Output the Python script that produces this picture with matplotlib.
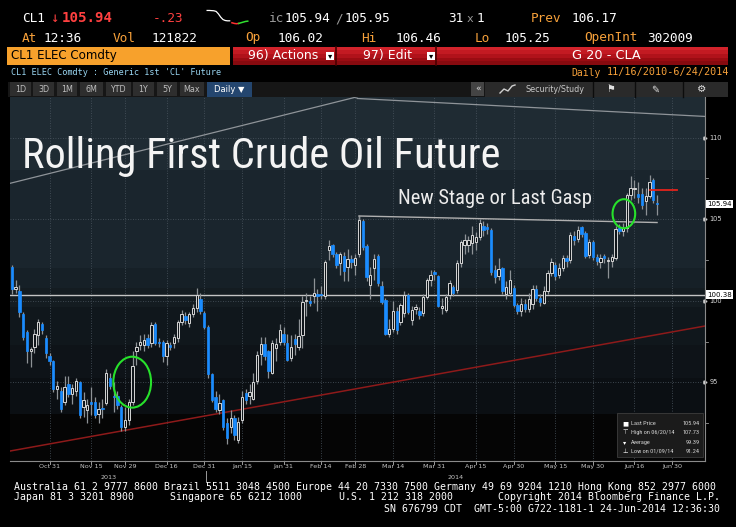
#!/usr/bin/env python3
"""Bloomberg style screen of the rolling first crude oil future (CL1), daily candles."""

import matplotlib
matplotlib.use("Agg")
import matplotlib.pyplot as plt
import numpy as np
import pandas as pd
from matplotlib import font_manager
from matplotlib.lines import Line2D
from matplotlib.patches import Ellipse, Rectangle

W, H = 736, 527

# ---------------------------------------------------------------- data
HOLIDAYS = ["2013-11-28", "2013-12-25", "2014-01-01", "2014-01-20",
            "2014-02-17", "2014-04-18", "2014-05-26"]

OPENS = [
    102.1, 100.7, 100.6, 99.2, 98.1, 96.9, 97.2, 97.9, 98.6, 97.7, 96.6,
    96.3, 94.6, 94.5, 93.8, 94.9, 94.3, 94.45, 95.0, 93.5, 93.3, 93.8, 93.8, 93.1, 93.45, 93.75, 95.3, 94.2, 94.2, 93.5, 92.3,
    92.7, 93.8, 96.9, 97.3, 97.3, 97.7, 97.4, 98.6, 97.5, 97.5, 96.6, 97.3, 97.4, 97.7, 98.7, 99.1, 98.65, 99.2, 99.55, 100.1, 99.25,
    98.4, 95.5, 94.1, 93.3, 93.9, 92.5, 92.3, 92.8, 91.5, 92.7, 94.35, 94.2, 94.0, 95.1, 96.75, 97.35, 96.9, 95.6, 97.1, 97.5, 98.0,
    97.4, 96.5, 97.65, 97.2, 97.9, 100.0, 100.0, 100.3, 100.45, 100.4, 100.3, 103.1, 103.4, 102.9, 102.35, 102.75, 102.1, 102.55, 102.2,
    102.9, 104.9, 103.35, 101.0, 102.0, 102.75, 100.9, 100.05, 97.95, 98.3, 99.4, 98.7, 99.24, 100.36, 98.83, 99.5, 99.4, 99.24, 100.26, 101.3, 101.75,
    101.5, 99.55, 99.44, 100.36, 100.87, 100.66, 102.3, 103.45, 103.4, 103.55, 103.6, 103.9, 104.6, 104.55, 104.35, 101.9, 101.5, 102.0, 100.4, 100.5, 100.8,
    99.75, 99.4, 99.8, 99.5, 99.8, 100.75, 100.2, 99.9, 100.6, 101.7, 102.2, 101.6, 102.0, 102.6, 102.5, 104.0, 103.8, 104.5, 104.15, 102.8, 103.6,
    102.7, 102.4, 102.75, 102.45, 102.45, 102.6, 104.45, 104.3, 104.45, 106.5, 106.85, 106.55, 106.55, 106.1, 106.4, 107.4, 106.02,
]
HIGHS = [
    102.2, 101.3, 101.0, 99.3, 98.2, 97.2, 98.3, 98.9, 98.7, 97.9, 96.8,
    96.4, 95.1, 94.7, 95.4, 95.4, 94.9, 95.3, 95.1, 94.4, 94.0, 94.7, 94.1, 93.8, 94.0, 95.8, 95.6, 95.0, 94.5, 93.6, 93.5,
    94.0, 96.9, 97.5, 97.9, 97.95, 98.0, 98.7, 98.7, 97.7, 97.6, 97.6, 97.5, 98.0, 98.8, 99.45, 99.3, 99.3, 99.8, 100.8, 100.5, 99.4,
    98.5, 95.6, 94.5, 94.3, 94.0, 92.8, 93.3, 93.0, 92.9, 94.5, 94.6, 94.9, 95.6, 96.9, 97.8, 97.8, 97.0, 97.6, 97.7, 98.6, 98.4,
    98.0, 97.9, 98.0, 98.9, 100.3, 100.5, 100.3, 101.4, 100.7, 100.9, 102.5, 103.7, 103.5, 103.0, 103.0, 103.0, 103.2, 102.8, 102.9,
    105.2, 105.0, 103.5, 102.1, 102.9, 102.9, 101.2, 100.2, 98.9, 100.0, 99.6, 99.9, 100.6, 100.5, 99.7, 99.8, 99.6, 100.4, 101.4, 101.9, 101.9,
    101.6, 100.2, 100.4, 101.3, 101.0, 102.5, 103.7, 104.1, 104.0, 104.6, 104.2, 105.0, 104.9, 104.8, 104.45, 102.2, 102.6, 102.1, 101.2, 101.9, 101.0,
    99.9, 100.2, 100.1, 100.5, 101.0, 101.0, 100.4, 100.9, 101.9, 102.6, 102.4, 102.3, 102.8, 102.8, 104.2, 104.3, 104.6, 104.6, 104.3, 103.8, 103.7,
    102.9, 102.9, 102.9, 102.7, 102.9, 104.6, 104.7, 104.8, 106.6, 107.65, 107.4, 107.3, 106.9, 106.9, 107.73, 107.5, 106.46,
]
LOWS = [
    100.4, 100.5, 99.0, 97.6, 96.2, 95.95, 96.8, 97.3, 98.0, 96.5, 96.1,
    94.4, 94.0, 93.2, 93.6, 94.1, 93.7, 94.2, 92.8, 92.9, 92.5, 93.0, 92.8, 92.5, 92.8, 93.6, 94.6, 93.2, 93.4, 92.0, 92.0,
    92.4, 93.6, 96.1, 97.0, 96.9, 97.1, 97.2, 97.3, 97.2, 96.25, 96.1, 97.0, 97.1, 97.5, 98.5, 98.6, 98.4, 99.0, 99.3, 99.2, 98.3,
    95.3, 93.8, 93.2, 93.1, 92.1, 91.24, 91.9, 91.5, 91.3, 92.5, 93.7, 93.7, 93.9, 94.9, 96.1, 96.4, 95.3, 95.5, 96.3, 97.3, 97.3,
    96.3, 96.3, 96.7, 97.0, 97.1, 99.1, 99.7, 99.9, 99.35, 100.1, 100.1, 102.5, 102.7, 102.0, 101.6, 101.2, 101.2, 102.0, 101.6,
    102.7, 103.1, 101.2, 100.1, 101.3, 100.9, 99.8, 97.9, 97.8, 98.1, 98.0, 98.5, 99.0, 99.2, 98.5, 99.2, 98.9, 99.1, 100.1, 100.9, 101.3,
    99.6, 99.2, 99.3, 100.1, 100.3, 100.5, 102.1, 102.9, 103.0, 102.9, 103.1, 103.7, 104.0, 104.1, 101.6, 101.1, 101.3, 100.4, 100.1, 100.3, 99.6,
    99.2, 99.1, 99.3, 99.3, 99.5, 100.0, 99.7, 99.8, 100.4, 101.5, 101.3, 101.4, 101.8, 102.1, 102.3, 103.4, 103.6, 103.9, 102.6, 102.6, 102.5,
    102.2, 102.0, 102.3, 101.4, 102.1, 102.5, 104.1, 104.0, 104.2, 106.2, 106.3, 106.0, 105.6, 105.26, 106.3, 106.0, 105.25,
]
CLOSES = [
    100.7, 100.85, 99.3, 97.8, 96.9, 97.05, 97.95, 98.7, 98.2, 96.8, 96.3,
    94.6, 94.8, 93.4, 94.7, 94.3, 94.65, 95.1, 93.0, 93.9, 93.6, 93.7, 93.0, 93.4, 93.35, 95.6, 94.8, 94.1, 93.6, 92.3, 92.7,
    93.8, 96.0, 97.2, 97.45, 97.6, 97.3, 98.5, 97.4, 97.4, 96.6, 97.4, 97.15, 97.8, 98.7, 99.2, 98.85, 99.2, 99.55, 100.35, 99.35, 98.4,
    95.5, 93.9, 93.4, 93.75, 92.3, 91.6, 92.8, 91.8, 92.6, 94.1, 93.95, 94.4, 95.0, 96.7, 97.35, 96.6, 95.7, 97.4, 97.35, 98.2, 97.45,
    96.4, 97.2, 97.35, 97.85, 99.95, 100.05, 99.85, 100.5, 100.3, 100.35, 102.4, 103.35, 102.9, 102.2, 102.85, 101.8, 102.55, 102.4, 102.6,
    104.95, 103.3, 101.45, 101.6, 102.55, 101.1, 99.95, 98.0, 98.25, 99.4, 98.2, 99.75, 100.36, 99.34, 99.44, 99.6, 99.14, 100.26, 101.28, 101.6, 101.65,
    99.7, 99.7, 100.26, 101.1, 100.47, 102.3, 103.63, 103.7, 103.75, 104.04, 103.9, 104.75, 104.35, 104.4, 101.75, 101.45, 101.95, 100.6, 100.85, 101.3, 99.75,
    99.4, 99.8, 99.5, 100.1, 100.75, 100.2, 99.95, 100.6, 101.7, 102.4, 101.5, 102.0, 102.6, 102.45, 104.05, 103.75, 104.35, 104.1, 102.75, 103.6, 102.7,
    102.45, 102.65, 102.6, 102.5, 102.7, 104.4, 104.3, 104.45, 106.5, 106.9, 106.9, 106.36, 105.9, 106.4, 107.3, 106.17, 105.94,
]

TICK_DATES = ["2013-10-31", "2013-11-15", "2013-11-29", "2013-12-16", "2013-12-31",
              "2014-01-15", "2014-01-31", "2014-02-14", "2014-02-28", "2014-03-14",
              "2014-03-31", "2014-04-15", "2014-04-30", "2014-05-15", "2014-05-30",
              "2014-06-16", "2014-06-30"]
TICK_LABELS = ["Oct 31", "Nov 15", "Nov 29", "Dec 16", "Dec 31", "Jan 15", "Jan 31",
               "Feb 14", "Feb 28", "Mar 14", "Mar 31", "Apr 15", "Apr 30", "May 15",
               "May 30", "Jun 16", "Jun 30"]
Y_TICKS = [110, 105, 100, 95]
Y_MINOR = [107.5, 102.5, 97.5, 92.5]

LAST_PRICE = 105.94
PIVOT_LEVEL = 100.38
RESIST_LINE = ([92, 171], [105.2, 104.8])
SUPPORT_LINE = ([-0.5, 183.7], [90.8, 98.46])
UPPER_LINE_A = ([-0.5, 91.5], [107.2, 112.5])
UPPER_LINE_B = ([91.5, 183.7], [112.4, 111.3])
PREV_MARK = ([169.2, 176.2], [106.8, 106.8])

LEGEND_ROWS = [("Last Price", "105.94"), ("High on 06/20/14", "107.73"),
               ("Average", "99.39"), ("Low on 01/09/14", "91.24")]

SPARK = [106.46, 106.46, 106.45, 106.44, 106.40, 106.25, 106.05, 105.90, 105.84, 105.82, 105.82]
SPARK_TAIL = [105.70, 105.66, 105.64, 105.66, 105.70, 105.74, 105.78, 105.80]

# background shading bands (price edges, top to bottom)
BAND_EDGES = [112.49, 108.0, 102.0, 100.8, 99.6, 97.3, 95.3, 93.1]
BAND_COLORS = ["#1f2b33", "#1a252d", "#162027", "#141c21", "#10171c", "#0e1318", "#0b0f13"]

ORANGE = "#f7a13a"
RED_TXT = "#ff4040"
MONO = "DejaVu Sans Mono"

available = {f.name for f in font_manager.fontManager.ttflist}
NARROW = next((f for f in ["Liberation Sans Narrow", "Roboto Condensed", "Open Sans Condensed",
                           "Roboto", "Open Sans"] if f in available), "DejaVu Sans")


def main() -> None:
    calendar = pd.bdate_range("2013-10-17", "2014-07-03")
    calendar = calendar[~calendar.isin(pd.to_datetime(HOLIDAYS))]

    o, h, l, c = (np.array(v, dtype=float) for v in (OPENS, HIGHS, LOWS, CLOSES))
    x = np.arange(len(c))

    fig = plt.figure(figsize=(W / 100, H / 100), dpi=100, facecolor="black")

    def put(px, py, s, color="white", size=9.2, family=MONO, va="baseline", **kw):
        return fig.text(px / W, 1 - py / H, s, color=color, fontsize=size, family=family, va=va, **kw)

    def rect(x0, y0, x1, y1, color, **kw):
        fig.add_artist(Rectangle((x0 / W, 1 - y1 / H), (x1 - x0) / W, (y1 - y0) / H,
                                 transform=fig.transFigure, facecolor=color, edgecolor="none", **kw))

    def fline(xs, ys, color, lw=1.0):
        fig.add_artist(Line2D([v / W for v in xs], [1 - v / H for v in ys],
                              transform=fig.transFigure, color=color, lw=lw))

    # ------------------------------------------------ main chart axes
    ax = fig.add_axes([10 / W, 1 - 461 / H, 695 / W, 364 / H])
    ax.set_xlim(-0.48, 183.7)
    ax.set_ylim(90.19, 112.49)
    ax.set_facecolor("#050505")
    ax.set_xticks([])
    ax.set_yticks([])
    for side in ("top", "left"):
        ax.spines[side].set_visible(False)
    for side in ("bottom", "right"):
        ax.spines[side].set_color("#8a8a8a")
        ax.spines[side].set_linewidth(0.8)

    for top, bot, col in zip(BAND_EDGES[:-1], BAND_EDGES[1:], BAND_COLORS):
        ax.axhspan(bot, top, color=col, lw=0, zorder=0)
    ax.axhspan(BAND_EDGES[-1], BAND_EDGES[-2], color=BAND_COLORS[-1], lw=0, zorder=0)

    tick_pos = [calendar.get_loc(pd.Timestamp(d)) for d in TICK_DATES]
    for p in tick_pos:
        ax.axvline(p, color="#4c5761", lw=0.6, ls=(0, (1, 2)), zorder=1)
    for yv in Y_TICKS:
        ax.axhline(yv, color="#4c5761", lw=0.6, ls=(0, (1, 2)), zorder=1)

    ax.axhline(PIVOT_LEVEL, color="#c4c4c4", lw=1.0, zorder=2)
    ax.plot(*UPPER_LINE_A, color="#8f9499", lw=0.9, zorder=2)
    ax.plot(*UPPER_LINE_B, color="#8f9499", lw=0.9, zorder=2)
    ax.plot(*SUPPORT_LINE, color="#8e1a1a", lw=1.1, zorder=2)
    ax.plot(*RESIST_LINE, color="#b0b0b0", lw=1.0, zorder=2)
    ax.plot([RESIST_LINE[0][0]] * 2, [RESIST_LINE[1][0], RESIST_LINE[1][0] - 0.6], color="#b0b0b0", lw=1.0, zorder=2)

    # candles
    up = c >= o
    ax.vlines(x, l, h, color="#8d9296", lw=0.9, zorder=3)
    body_lo = np.minimum(o, c)
    body_h = np.maximum(np.abs(c - o), 0.07)
    ax.bar(x[up], body_h[up], bottom=body_lo[up], width=0.62, facecolor="#10161b",
           edgecolor="#d6d6d6", lw=0.7, zorder=4)
    ax.bar(x[~up], body_h[~up], bottom=body_lo[~up], width=0.62, facecolor="#1a8cff",
           edgecolor="#1a8cff", lw=0.5, zorder=4)

    ax.plot(*PREV_MARK, color="#e3231c", lw=1.3, zorder=5)

    ax.add_patch(Ellipse((31.9, 95.02), 10.0, 3.12, fill=False, ec="#27e12b", lw=1.5, zorder=6))
    ax.add_patch(Ellipse((162.2, 105.34), 6.0, 1.78, fill=False, ec="#27e12b", lw=1.5, zorder=6))

    # right axis labels
    ytr = ax.get_yaxis_transform()
    ax.plot([1.0] * len(Y_TICKS), Y_TICKS, ls="none", marker=">", ms=2.2, color="#d0d0d0",
            transform=ytr, clip_on=False)
    for yv in Y_TICKS:
        ax.text(1.006, yv, str(yv), transform=ytr, fontsize=4.8, color="#d6d6d6", va="center", ha="left")
    for yv in Y_MINOR:
        ax.plot([1.0, 1.005], [yv, yv], color="#9a9a9a", lw=0.6, transform=ytr, clip_on=False)
    for val in (LAST_PRICE, PIVOT_LEVEL):
        ax.text(1.003, val, f"{val:.2f}", transform=ytr, fontsize=5.0, color="black", va="center",
                ha="left", bbox=dict(fc="white", ec="none", pad=1.0))

    # bottom axis labels
    xtr = ax.get_xaxis_transform()
    for p, lab in zip(tick_pos, TICK_LABELS):
        ax.plot([p, p], [0, -0.008], color="#9a9a9a", lw=0.7, transform=xtr, clip_on=False)
        ax.text(p, -0.0155, lab, transform=xtr, fontsize=4.6, color="#c4c4c4", ha="center", va="center")
    split = calendar.get_loc(pd.Timestamp("2013-12-31")) + 0.5
    ax.plot([split, split], [-0.0275, -0.058], color="#9a9a9a", lw=0.7, transform=xtr, clip_on=False)
    ax.text(split / 2, -0.044, "2013", transform=xtr, fontsize=4.6, color="#c4c4c4", ha="center", va="center")
    ax.text((split + 183.7) / 2, -0.044, "2014", transform=xtr, fontsize=4.6, color="#c4c4c4",
            ha="center", va="center")

    # annotation texts
    renderer = fig.canvas.get_renderer()
    title = put(22, 168, "Rolling First Crude Oil Future", color="#f4f4f4", size=34, family=NARROW)
    sub = put(398, 204, "New Stage or Last Gasp", color="#ececec", size=14, family=NARROW)
    for t, width in ((title, 478), (sub, 195)):
        t.set_fontsize(t.get_fontsize() * width / t.get_window_extent(renderer).width)

    # legend box
    rect(617, 413, 703, 457, "#1b1b1b", zorder=5)
    fig.add_artist(Rectangle((617 / W, 1 - 457 / H), 86 / W, 44 / H, transform=fig.transFigure,
                             fill=False, edgecolor="#3c3c3c", lw=0.6, zorder=6))
    icons = ["■", "⊤", "▾", "⊥"]
    for i, ((name, val), ic) in enumerate(zip(LEGEND_ROWS, icons)):
        yy = 423.5 + 9.3 * i
        put(625, yy, ic, color="white", size=4.6, family="DejaVu Sans", va="center", ha="center", zorder=7)
        put(631, yy, name, color="#d2d2d2", size=4.5, family=NARROW, va="center", zorder=7)
        put(700, yy, val, color="#d2d2d2", size=4.5, family=NARROW, va="center", ha="right", zorder=7)

    # ------------------------------------------------ header
    put(21.7, 22.5, "CL1")
    put(50.5, 22.5, "↓", color=RED_TXT, size=10)
    put(61.5, 22.5, "105.94", color=RED_TXT, size=10.2, weight="bold")
    put(152.7, 22.5, "-.23", color=RED_TXT)
    put(269.3, 22.5, "ic", color="#9a9a9a")
    put(285, 22.5, "105.94")
    put(335, 22.5, "/", color="#9a9a9a")
    put(345, 22.5, "105.95")
    put(448, 22.5, "31")
    put(467, 22.5, "x", color="#9a9a9a", size=8)
    put(477, 22.5, "1")
    put(531, 22.5, "Prev", color=ORANGE)
    put(572, 22.5, "106.17")

    row2 = [(21.7, "At", ORANGE), (44, "12:36", "white"), (113, "Vol", ORANGE), (151.7, "121822", "white"),
            (245, "Op", ORANGE), (278, "106.02", "white"), (361, "Hi", ORANGE), (396, "106.46", "white"),
            (474.7, "Lo", ORANGE), (504.7, "105.25", "white"), (584, "OpenInt", ORANGE), (647, "302009", "white")]
    for px_, s, col in row2:
        put(px_, 41.5, s, color=col)

    # intraday sparkline
    sp = fig.add_axes([206 / W, 1 - 26 / H, 44 / W, 17 / H])
    sp.set_axis_off()
    n = len(SPARK)
    sp.plot(range(n), SPARK, color="white", lw=0.9)
    tail_x = np.arange(n, n + len(SPARK_TAIL))
    sp.plot(tail_x[:4], SPARK_TAIL[:4], color="#ff3030", lw=1.1)
    sp.plot(tail_x[3:], SPARK_TAIL[3:], color="#30e030", lw=1.1)
    sp.set_xlim(-0.5, n + len(SPARK_TAIL))
    sp.set_ylim(105.5, 106.55)

    # security bar
    rect(7.3, 46.7, 230, 65, "#f7a12c")
    put(10.7, 56, "CL1 ELEC Comdty", color="black", size=8.6, family="DejaVu Sans", va="center")
    reds = ["#d2232b", "#c31a22", "#b0121a", "#9a0c12", "#870a0f"]
    step = (65 - 46.7) / len(reds)
    for i, col in enumerate(reds):
        rect(233, 46.7 + i * step, 728, 46.7 + (i + 1) * step + 0.3, col)
    fline([336, 336], [46.7, 65], "#4a0000", lw=1.2)
    fline([436, 436], [46.7, 65], "#4a0000", lw=1.2)
    put(248, 56, "96) Actions", size=9, family="DejaVu Sans", va="center")
    put(363, 56, "97) Edit", size=9, family="DejaVu Sans", va="center")
    put(572, 56, "G 20 - CLA", size=9.3, family="DejaVu Sans", va="center")
    for bx in (326, 427):
        rect(bx, 52.5, bx + 8, 59.5, "white")
        put(bx + 4, 56, "▾", color="black", size=6, family="DejaVu Sans", va="center", ha="center")

    put(10.7, 72.5, "CL1 ELEC Comdty : Generic 1st 'CL' Future", color="#9ad6f2", size=6.1, va="center")
    put(571, 72.5, "Daily", color=ORANGE, size=7.0, va="center")
    put(607, 72.5, "11/16/2010-6/24/2014", color=ORANGE, size=7.3, va="center")

    # toolbar
    rect(8, 81.7, 728, 96.7, "#161616")
    buttons = [("1D", 10, 30.7), ("3D", 33, 54), ("1M", 57, 77), ("6M", 80, 103), ("YTD", 106, 130.7),
               ("1Y", 133, 154), ("5Y", 157, 177), ("Max", 180, 204)]
    for lab, x0, x1 in buttons:
        rect(x0, 82.5, x1, 96, "#2e2e2e")
        put((x0 + x1) / 2, 89.3, lab, color="#bdbdbd", size=5.8, family="DejaVu Sans", va="center", ha="center")
    rect(207, 82, 251.7, 96.5, "#24466f")
    put(229, 89.3, "Daily ▼", color="white", size=6.0, family="DejaVu Sans", va="center", ha="center")
    rect(485, 81.7, 728, 96.7, "#2a2a2a")
    rect(471, 82.5, 484, 96, "#444444")
    put(477.5, 89, "«", color="#dddddd", size=6.5, family="DejaVu Sans", va="center", ha="center")
    for sx in (593, 635, 683):
        fline([sx, sx], [81.7, 96.7], "#0c0c0c", lw=1.0)
    fline([500, 504, 508, 512, 515], [93, 89, 91, 86, 85], "#d0d0d0", lw=1.0)
    put(525, 89.3, "Security/Study", color="#c8c8c8", size=5.8, family="DejaVu Sans", va="center")
    put(611, 89.3, "⚑", color="#e0e0e0", size=7, family="DejaVu Sans", va="center", ha="center")
    put(655, 89.3, "✎", color="#e0e0e0", size=7, family="DejaVu Sans", va="center", ha="center")
    put(702, 89.3, "⚙", color="#e0e0e0", size=7.5, family="DejaVu Sans", va="center", ha="center")

    # ------------------------------------------------ footer
    foot = 7.15
    put(14, 486.5, "Australia 61 2 9777 8600 Brazil 5511 3048 4500 Europe 44 20 7330 7500 "
        "Germany 49 69 9204 1210 Hong Kong 852 2977 6000", size=foot, va="center")
    put(14, 497.5, "Japan 81 3 3201 8900", size=foot, va="center")
    put(170, 497.5, "Singapore 65 6212 1000", size=foot, va="center")
    put(339, 497.5, "U.S. 1 212 318 2000", size=foot, va="center")
    put(720, 497.5, "Copyright 2014 Bloomberg Finance L.P.", size=foot, va="center", ha="right")
    put(720, 508.5, "SN 676799 CDT  GMT-5:00 G722-1181-1 24-Jun-2014 12:36:30", size=foot,
        va="center", ha="right")

    fig.savefig("out.png", dpi=100, facecolor="black")
    plt.close(fig)


if __name__ == "__main__":
    main()
